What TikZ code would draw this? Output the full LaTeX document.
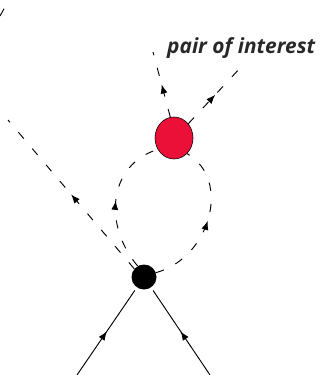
\documentclass[tikz,border=0pt]{standalone}
\usepackage{fontspec}
\newfontfamily\labelfont{Open Sans}
\usepackage{tikz}
\usetikzlibrary{shapes.geometric, arrows.meta, decorations.markings}
\definecolor{pairred}{RGB}{235,16,55}
\definecolor{labelgray}{RGB}{40,40,40}

\begin{document}
\begin{tikzpicture}[
    x=0.03cm, y=-0.03cm,
    blob/.style={circle, fill=black, minimum size=0.75cm, inner sep=0pt},
    redblob/.style={ellipse, draw=black, line width=0.5pt, fill=pairred, minimum width=1.14cm, minimum height=1.26cm, inner sep=0pt},
    line/.style={line width=0.8pt},
    dashline/.style={line width=0.8pt, dash pattern=on 2.5mm off 3.9mm},
    midarrow/.style={postaction={decorate}, decoration={markings, mark=at position 0.5 with {\arrow{Latex[length=2.7mm,width=2.1mm]}}}}
]
\useasboundingbox (0,0) rectangle (321,375);

\node[blob] (bdot) at (144,277) {};
\node[redblob] (rdot) at (174,138) {};

\coordinate (bl) at (77,375);
\coordinate (br) at (210,375);
\coordinate (tl) at (8,120);
\coordinate (tu) at (153,52);
\coordinate (tr) at (242,66);
\coordinate (ca) at (0,16);
\coordinate (cb) at (5,7);

\node[anchor=base west, inner sep=0pt, text=labelgray, font=\labelfont\bfseries\itshape\fontsize{17.8}{20}\selectfont] (pair) at (167,54) {pair of interest};

% incoming legs
\draw[line, midarrow, shorten >=3pt] (bl) -- (bdot);
\draw[line, midarrow, shorten >=3pt] (br) -- (bdot);

% outgoing dashed legs
\draw[dashline, midarrow] (bdot.140) -- (tl);
\draw[dashline, midarrow] (rdot.100) -- (tu);
\draw[dashline, midarrow] (rdot.45) -- (tr);
\draw[dashline] (ca) -- (cb);

% loop to the pair
\draw[dashline, midarrow] (bdot.120) .. controls (103,225) and (108,165) .. (rdot.215);
\draw[dashline, midarrow] (bdot.20) .. controls (210,258) and (232,180) .. (rdot.-50);
\end{tikzpicture}
\end{document}
